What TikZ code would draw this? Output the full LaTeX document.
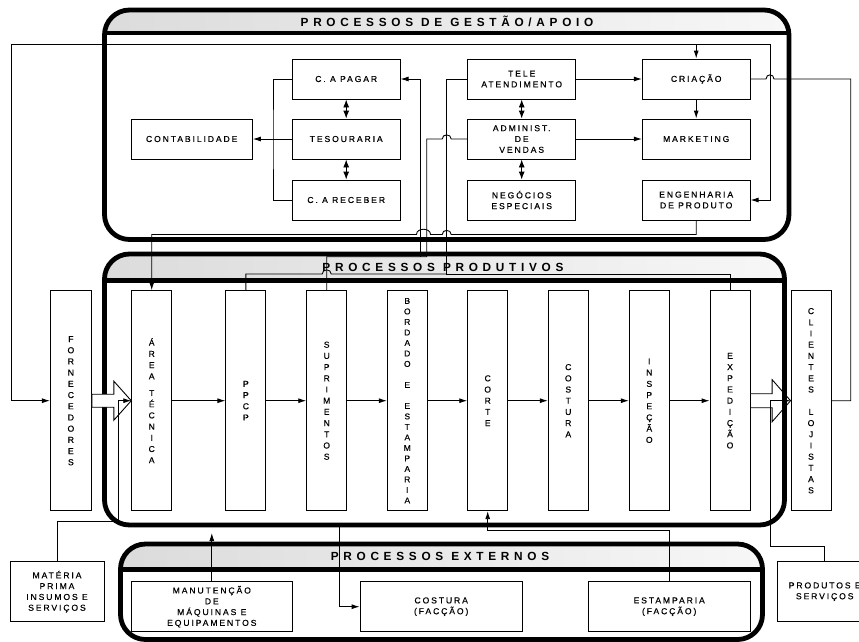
\documentclass[tikz,border=0pt]{standalone}
\usepackage{fontspec}
\setmainfont{Liberation Sans}
\newfontfamily\lblfont[LetterSpace=22,FakeBold=0.4]{Liberation Sans}
\newfontfamily\vfont[FakeBold=0.4]{Liberation Sans}
\newfontfamily\ttlfont[LetterSpace=40]{Liberation Sans}
\usetikzlibrary{arrows.meta,calc}
\begin{document}
\begin{tikzpicture}[x=1pt,y=-1pt,
  ln/.style={line width=0.9pt, draw=black},
  ar/.style={-{Latex[length=8pt,width=5pt]}},
  dar/.style={{Latex[length=8pt,width=6pt]}-{Latex[length=8pt,width=6pt]}},
  bx/.style={draw, line width=0.9pt, fill=white, inner sep=0pt, align=center,
    font=\lblfont\fontsize{8.6}{10.8}\selectfont},
  vbx/.style={draw, line width=0.9pt, fill=white, inner sep=0pt, align=center,
    minimum width=40, minimum height=220, font=\vfont\fontsize{8.6}{11.2}\selectfont},
  grp/.style={line width=4.8pt, rounded corners=25},
  bar/.style={line width=4.8pt},
  ttl/.style={inner sep=0pt, font=\ttlfont\bfseries\fontsize{11.8}{13}\selectfont},
  blk/.style={line width=0.9pt, draw=black, fill=white}
]
\useasboundingbox (0,0) rectangle (859,641);
\clip (0,0) rectangle (859,641);

% ---------- group: gestao/apoio ----------
\begin{scope}
  \clip[rounded corners=25] (104.5,10) rectangle (789,239.5);
  \shade[left color=gray!28, right color=gray!6] (100,5) rectangle (795,33);
\end{scope}
\draw[grp] (104.5,10) rectangle (789,239.5);
\draw[bar] (104.5,33) -- (789,33);
\node[ttl] (t1) at (447,21.5) {PROCESSOS DE GESTÃO/APOIO};

% ---------- group: produtivos ----------
\begin{scope}
  \clip[rounded corners=25] (104.5,254) rectangle (784.5,525);
  \shade[left color=gray!28, right color=gray!6] (100,250) rectangle (790,280.5);
\end{scope}

% vertical boxes
\node[vbx, minimum width=41] (forn) at (70.9,400.7) {F\\O\\R\\N\\E\\C\\E\\D\\O\\R\\E\\S};
\node[vbx] (area) at (151.7,400.7) {Á\\R\\E\\A\\[5.5pt]T\\É\\C\\N\\I\\C\\A};
\node[vbx] (ppcp) at (245.9,400.7) {P\\P\\C\\P};
\node[vbx] (supr) at (326.7,400.7) {S\\U\\P\\R\\I\\M\\E\\N\\T\\O\\S};
\node[vbx, font=\vfont\fontsize{8.4}{10.5}\selectfont] (bord) at (407.3,400.7) {B\\O\\R\\D\\A\\D\\O\\[10.5pt]E\\[10.5pt]E\\S\\T\\A\\M\\P\\A\\R\\I\\A};
\node[vbx] (corte) at (487.7,400.7) {C\\O\\R\\T\\E};
\node[vbx] (cost) at (568.3,400.7) {C\\O\\S\\T\\U\\R\\A};
\node[vbx] (insp) at (649.3,400.7) {I\\N\\S\\P\\E\\Ç\\Ã\\O};
\node[vbx] (exped) at (730,400.7) {E\\X\\P\\E\\D\\I\\Ç\\Ã\\O};
\node[vbx] (cli) at (811,400.7) {C\\L\\I\\E\\N\\T\\E\\S\\[11.2pt]L\\O\\J\\I\\S\\T\\A\\S};

% right hollow arrow (behind border)
\draw[blk] ($(exped.east)+(0,-7)$) -- ++(21.7,0) -- ++(0,-14) -- (cli.west)
  -- ($(exped.east)+(21.7,21)$) -- ++(0,-14) -- ($(exped.east)+(0,7)$) -- cycle;

\draw[grp] (104.5,254) rectangle (784.5,525);
\draw[bar] (104.5,280.5) -- (784.5,280.5);
\node[ttl] (t2) at (443,267) {PROCESSOS PRODUTIVOS};

% left hollow arrow (over border)
\draw[blk] ($(forn.east)+(0,-6.5)$) -- ++(22,0) -- ++(0,-13) -- (area.west)
  -- ($(forn.east)+(22,19.5)$) -- ++(0,-13) -- ($(forn.east)+(0,6.5)$) -- cycle;

% ---------- group: externos ----------
\begin{scope}
  \clip[rounded corners=25] (120.5,544) rectangle (762.5,639.5);
  \shade[left color=gray!28, right color=gray!6] (115,540) rectangle (770,569.5);
\end{scope}
\draw[grp] (120.5,544) rectangle (762.5,639.5);
\draw[bar] (120.5,569.5) -- (762.5,569.5);
\node[ttl] (t3) at (440,556.5) {PROCESSOS EXTERNOS};

% ---------- boxes: gestao ----------
\node[bx, minimum width=121.3, minimum height=40] (cont) at (191.7,139) {CONTABILIDADE};
\node[bx, minimum width=107.7, minimum height=40] (pagar) at (346.2,79) {C. A PAGAR};
\node[bx, minimum width=107.7, minimum height=40] (tes) at (346.2,139) {TESOURARIA};
\node[bx, minimum width=107.7, minimum height=40] (rec) at (346.2,200) {C. A RECEBER};
\node[bx, minimum width=108, minimum height=40] (tele) at (521.7,79) {TELE\\ATENDIMENTO};
\node[bx, minimum width=108, minimum height=40] (adm) at (521.7,139) {ADMINIST.\\DE\\VENDAS};
\node[bx, minimum width=108, minimum height=40] (neg) at (521.7,200) {NEGÓCIOS\\ESPECIAIS};
\node[bx, minimum width=107.7, minimum height=40] (cria) at (696.2,79) {CRIAÇÃO};
\node[bx, minimum width=107.7, minimum height=40] (mkt) at (696.2,139) {MARKETING};
\node[bx, minimum width=107.7, minimum height=40] (eng) at (696.2,200) {ENGENHARIA\\DE PRODUTO};

% ---------- boxes: externos / outside ----------
\node[bx, minimum width=94, minimum height=60] (mat) at (57,591.7) {MATÉRIA\\PRIMA\\INSUMOS E\\SERVIÇOS};
\node[bx, minimum width=94, minimum height=60] (prod) at (824.7,591.7) {PRODUTOS E\\SERVIÇOS};
\node[bx, minimum width=161.7, minimum height=50] (manut) at (211.8,606.7) {MANUTENÇÃO\\DE\\MÁQUINAS E\\EQUIPAMENTOS};
\node[bx, minimum width=162.3, minimum height=50] (costf) at (441.2,606.7) {COSTURA\\(FACÇÃO)};
\node[bx, minimum width=161.7, minimum height=50] (estf) at (669.2,606.7) {ESTAMPARIA\\(FACÇÃO)};

% ---------- coordinates ----------
\coordinate (topL) at (11,44);
\coordinate (topR) at (770,44);
\coordinate (jA) at (420.7,256.7);
\coordinate (mt) at (211.8,533);
\coordinate (cs) at (339.3,525);

% ---------- connectors: gestao ----------
\draw[ln,dar] (pagar.south) -- (tes.north);
\draw[ln,dar] (tes.south) -- (rec.north);
\draw[ln] (pagar.west) -| (273,139) |- (rec.west);
\draw[ln,ar] (tes.west) -- (cont.east);
\draw[ln,dar] (tele.south) -- (adm.north);
\draw[ln,dar] (adm.south) -- (neg.north);
\draw[ln,ar] (tele.east) -- (cria.west);
\draw[ln,ar] (adm.east) -- (mkt.west);
\draw[ln,ar] (cria.south) -- (mkt.north);
\draw[ln,ar] (cria.north |- topL) -- (cria.north);

% big loop from top to fornecedores and engenharia
\draw[ln,{Latex[length=8pt,width=5pt]}-{Latex[length=8pt,width=5pt]}]
  (forn.west) -| (topL) -- (topR) |- (eng.east);

% criacao to clientes
\draw[ln] (cria.east) -- (766,79) .. controls (766,73.5) and (774,73.5) .. (774,79)
  -- (850.7,79) |- (cli.east);

% C. A PAGAR from junction
\draw[ln,ar] (jA) -- (420.7,79) -- (pagar.east);

% administ. de vendas to suprimentos
\draw[ln] (adm.west) -- (451.2,139) .. controls (451.2,133.5) and (442.2,133.5) .. (442.2,139)
  -| (426.7,256.7) -| (supr.north);

% tele atendimento / ppcp / expedicao bus
\draw[ln] (tele.west) -| (446.7,274) -| (exped.north);
\draw[ln] (ppcp.north) |- (322.2,274) .. controls (322.2,268.5) and (331.2,268.5) .. (331.2,274)
  -- (446.7,274);

% engenharia de produto to area tecnica
\draw[ln,ar] (eng.south) |- (451.2,234.5)
  .. controls (451.2,229) and (442.2,229) .. (442.2,234.5) -- (430.5,234.5)
  .. controls (430.5,227.5) and (416.5,227.5) .. (416.5,234.5) -| (area.north);

% ---------- connectors: produtivos chain ----------
\draw[ln,ar] (area.east) -- (ppcp.west);
\draw[ln,ar] (ppcp.east) -- (supr.west);
\draw[ln,ar] (supr.east) -- (bord.west);
\draw[ln,ar] (bord.east) -- (corte.west);
\draw[ln,ar] (corte.east) -- (cost.west);
\draw[ln,ar] (cost.east) -- (insp.west);
\draw[ln,ar] (insp.east) -- (exped.west);

% materia prima to area tecnica
\draw[ln,ar] (mat.north) |- (118.3,521.7) -- (118.3,400.7) -- (area.west);
% produtos e servicos / clientes
\draw[ln,ar] (prod.north) |- (770,546.7) -- (770,400.7) -- (cli.west);

% ---------- connectors: externos ----------
\draw[ln,ar] (manut.north) -- (mt);
\draw[ln,ar] (cs) |- (costf.west);
\draw[ln,ar] (estf.north) |- (490,530.7) -| (corte.south);

\end{tikzpicture}
\end{document}
